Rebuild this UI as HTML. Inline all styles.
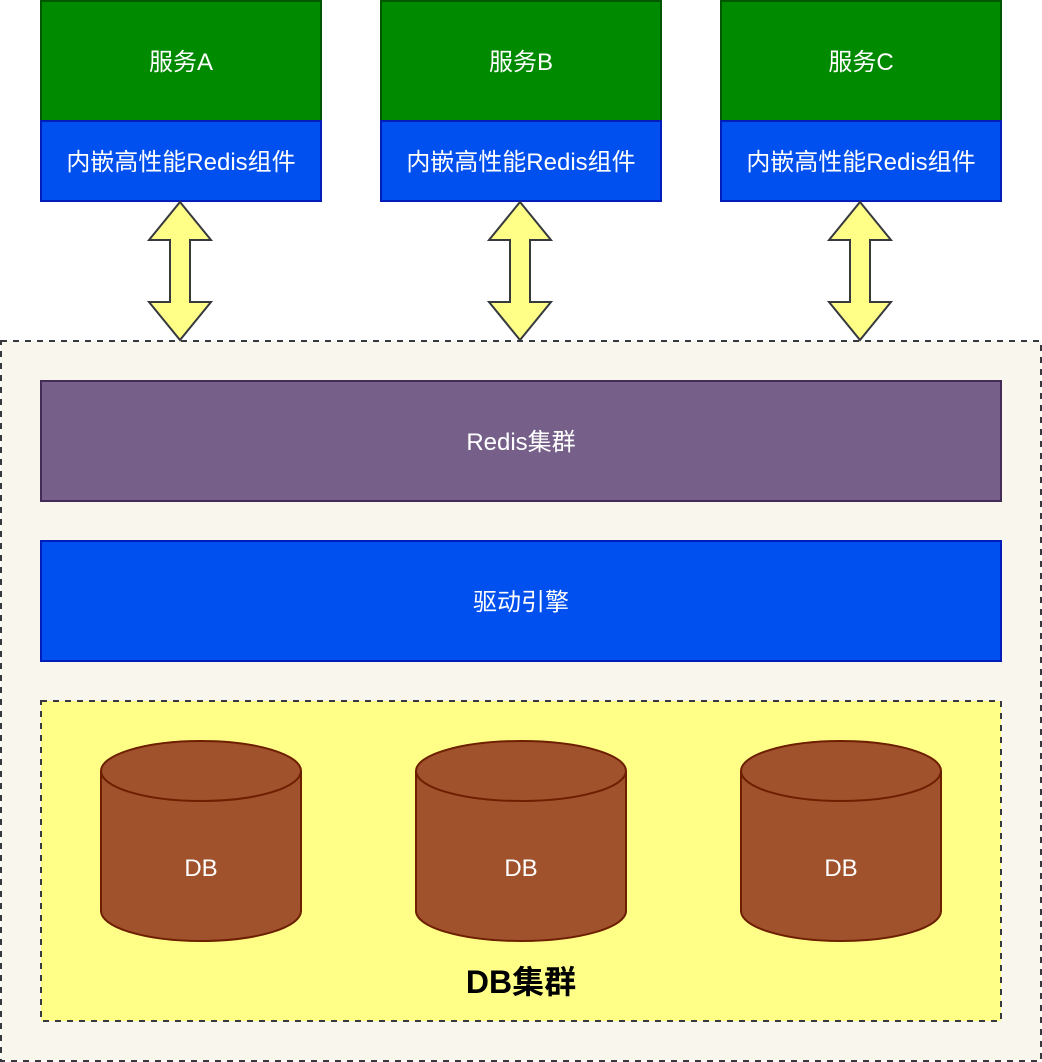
<!DOCTYPE html>
<html>
<head>
<meta charset="utf-8">
<style>
  html, body { margin: 0; padding: 0; background: #ffffff; }
  body { width: 1042px; height: 1062px; overflow: hidden; }
  svg { display: block; }
  text { font-family: "Liberation Sans", "Noto Sans CJK SC", sans-serif; }
</style>
</head>
<body>
<svg width="1042" height="1062" viewBox="0 0 1042 1062" xmlns="http://www.w3.org/2000/svg">
  <!-- Outer container -->
  <rect x="1" y="341" width="1040" height="720" fill="#f9f7ed" stroke="#36393d" stroke-width="2" stroke-dasharray="6 6"/>

  <!-- Service A -->
  <rect x="41" y="1" width="280" height="120" fill="#008a00" stroke="#005700" stroke-width="2"/>
  <rect x="41" y="121" width="280" height="80" fill="#0050ef" stroke="#001dbc" stroke-width="2"/>
  <text x="181" y="70" font-size="24" fill="#ffffff" text-anchor="middle">服务A</text>
  <text x="181" y="170" font-size="24" fill="#ffffff" text-anchor="middle">内嵌高性能Redis组件</text>

  <!-- Service B -->
  <rect x="381" y="1" width="280" height="120" fill="#008a00" stroke="#005700" stroke-width="2"/>
  <rect x="381" y="121" width="280" height="80" fill="#0050ef" stroke="#001dbc" stroke-width="2"/>
  <text x="521" y="70" font-size="24" fill="#ffffff" text-anchor="middle">服务B</text>
  <text x="521" y="170" font-size="24" fill="#ffffff" text-anchor="middle">内嵌高性能Redis组件</text>

  <!-- Service C -->
  <rect x="721" y="1" width="280" height="120" fill="#008a00" stroke="#005700" stroke-width="2"/>
  <rect x="721" y="121" width="280" height="80" fill="#0050ef" stroke="#001dbc" stroke-width="2"/>
  <text x="861" y="70" font-size="24" fill="#ffffff" text-anchor="middle">服务C</text>
  <text x="861" y="170" font-size="24" fill="#ffffff" text-anchor="middle">内嵌高性能Redis组件</text>

  <!-- Double arrows -->
  <g fill="#ffff88" stroke="#36393d" stroke-width="2" stroke-linejoin="miter">
    <polygon points="180,202 211,240 190,240 190,302 211,302 180,340 149,302 170,302 170,240 149,240"/>
    <polygon points="520,202 551,240 530,240 530,302 551,302 520,340 489,302 510,302 510,240 489,240"/>
    <polygon points="860,202 891,240 870,240 870,302 891,302 860,340 829,302 850,302 850,240 829,240"/>
  </g>

  <!-- Redis cluster -->
  <rect x="41" y="381" width="960" height="120" fill="#76608a" stroke="#432d57" stroke-width="2"/>
  <text x="521" y="450" font-size="24" fill="#ffffff" text-anchor="middle">Redis集群</text>

  <!-- Drive engine -->
  <rect x="41" y="541" width="960" height="120" fill="#0050ef" stroke="#001dbc" stroke-width="2"/>
  <text x="521" y="610" font-size="24" fill="#ffffff" text-anchor="middle">驱动引擎</text>

  <!-- DB cluster -->
  <rect x="41" y="701" width="960" height="320" fill="#ffff88" stroke="#36393d" stroke-width="2" stroke-dasharray="6 6"/>

  <!-- Cylinders -->
  <g fill="#a0522d" stroke="#6d1f00" stroke-width="2">
    <path d="M101,771 A100,30 0 0 1 301,771 L301,911 A100,30 0 0 1 101,911 Z"/>
    <path d="M101,771 A100,30 0 0 0 301,771" fill="none"/>
    <path d="M416,771 A105,30 0 0 1 626,771 L626,911 A105,30 0 0 1 416,911 Z"/>
    <path d="M416,771 A105,30 0 0 0 626,771" fill="none"/>
    <path d="M741,771 A100,30 0 0 1 941,771 L941,911 A100,30 0 0 1 741,911 Z"/>
    <path d="M741,771 A100,30 0 0 0 941,771" fill="none"/>
  </g>
  <text x="201" y="876" font-size="24" fill="#ffffff" text-anchor="middle">DB</text>
  <text x="521" y="876" font-size="24" fill="#ffffff" text-anchor="middle">DB</text>
  <text x="841" y="876" font-size="24" fill="#ffffff" text-anchor="middle">DB</text>

  <text x="521" y="993" font-size="32" font-weight="bold" fill="#000000" text-anchor="middle">DB集群</text>
</svg>
</body>
</html>
